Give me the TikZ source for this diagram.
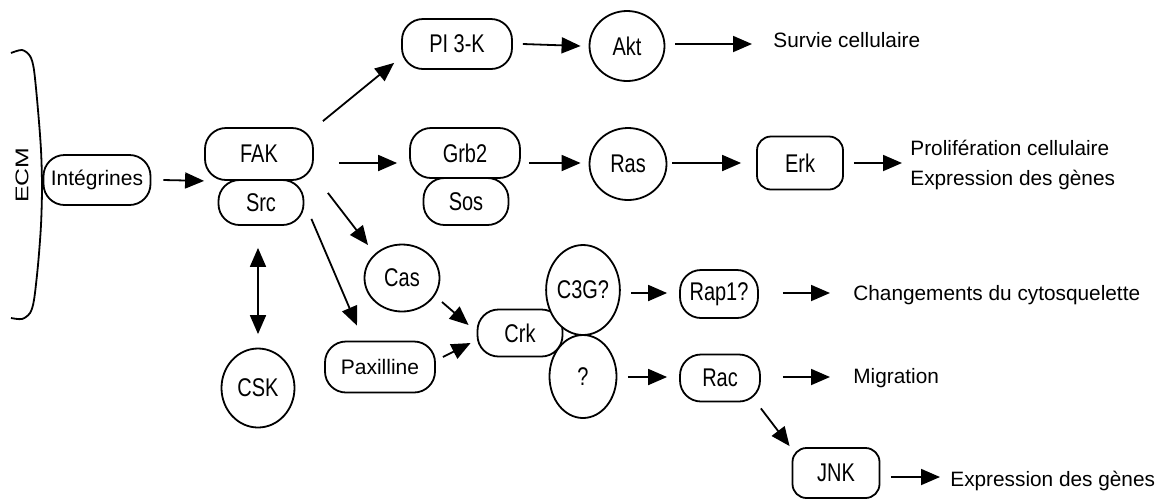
\documentclass[tikz,border=0pt]{standalone}
\usepackage{fontspec}
\setmainfont{Liberation Sans}
\newfontfamily\condfont[FakeStretch=0.78]{Liberation Sans}
\usepackage{graphicx}
\usetikzlibrary{shapes.geometric,arrows.meta,calc}
\begin{document}
\begin{tikzpicture}[x=0.5pt,y=-0.5pt]
\tikzset{
  lab/.style={font=\condfont\fontsize{12.8}{14}\selectfont},
  plain/.style={font=\fontsize{10.5}{12}\selectfont},
  pill/.style={draw, line width=0.9pt, rounded corners=10.5pt, fill=white, inner sep=0pt, lab},
  oval/.style={draw, ellipse, line width=0.9pt, fill=white, inner sep=0pt, lab},
  arr/.style={line width=0.9pt, -{Triangle[length=9.5pt,width=8pt]}},
  darr/.style={line width=0.9pt, {Triangle[length=9.5pt,width=8pt]}-{Triangle[length=9.5pt,width=8pt]}},
  lbl/.style={anchor=base west, inner sep=0pt, font=\fontsize{10.4}{15}\selectfont, align=left}
}
\useasboundingbox (0,0) rectangle (1168,500);

% ECM membrane
\draw[line width=0.9pt] plot[smooth] coordinates {(11,53) (22,50) (30,56) (34,70) (38,110) (41,150) (42,187) (41,225) (38,265) (34,300) (30,313) (22,319) (11,318)};
\node[rotate=90, inner sep=0pt, font=\fontsize{9.2}{10}\selectfont] (ecm) at (22,175) {\scalebox{1.35}[1]{ECM}};

% nodes
\node[pill, plain, minimum width=53.5pt, minimum height=25pt] (integ) at (97,180) {Int\'egrines};
\node[pill, minimum width=42.5pt, minimum height=22.5pt] (src) at (261,202.5) {Src};
\node[pill, minimum width=54pt, minimum height=26pt] (fak) at (259,154) {FAK};
\node[pill, minimum width=55pt, minimum height=25pt] (pi3k) at (457,44) {PI 3-K};
\node[oval, minimum width=37.5pt, minimum height=35pt] (akt) at (627,46) {Akt};
\node[pill, minimum width=42.5pt, minimum height=23.5pt] (sos) at (466,201.5) {Sos};
\node[pill, minimum width=55pt, minimum height=25pt] (grb2) at (465,153) {Grb2};
\node[oval, minimum width=38.5pt, minimum height=36pt] (ras) at (628,164) {Ras};
\node[pill, rounded corners=7pt, minimum width=43pt, minimum height=26.5pt] (erk) at (800,163) {Erk};
\node[oval, minimum width=37.5pt, minimum height=33.5pt] (cas) at (402,278) {Cas};
\node[pill, plain, minimum width=55pt, minimum height=25.5pt] (pax) at (380,367) {Paxilline};
\node[pill, minimum width=42.5pt, minimum height=23.5pt] (crk) at (520,333) {Crk};
\node[oval, minimum width=33.5pt, minimum height=45pt] (c3g) at (583,290) {C3G?};
\node[oval, minimum width=33.5pt, minimum height=41.5pt] (q) at (583,376.5) {?};
\node[pill, minimum width=39pt, minimum height=24pt] (rap) at (719,294) {Rap1?};
\node[pill, minimum width=40pt, minimum height=23.5pt] (rac) at (720,378) {Rac};
\node[pill, rounded corners=7pt, minimum width=43.5pt, minimum height=25pt] (jnk) at (836,473) {JNK};
\node[oval, minimum width=36.5pt, minimum height=39.5pt] (csk) at (258,388) {CSK};

% text labels
\node[lbl] (t1) at (773,47) {Survie cellulaire};
\node[lbl, anchor=west] (t2) at (910,164.5) {Prolif\'eration cellulaire\\Expression des g\`enes};
\node[lbl] (t3) at (853,300) {Changements du cytosquelette};
\node[lbl] (t4) at (853,383) {Migration};
\node[lbl] (t5) at (950,486) {Expression des g\`enes};

% connectors
\draw[arr] ([shift={(12,0)}]integ.east) -- (fak.south west);
\draw[arr] ([shift={(9,-6)}]fak.north east) -- ([shift={(-7,-7)}]pi3k.south west);
\draw[arr] ([shift={(25,9)}]fak.east) -- ([shift={(-12,10)}]grb2.west);
\draw[arr] ([shift={(14,12)}]fak.south east) -- ([shift={(-34,-33)}]cas.center);
\draw[arr] ([shift={(7,-7)}]src.south east) -- ([shift={(-23,-15)}]pax.north);
\draw[darr] ([shift={(-3,22)}]src.south) -- ([shift={(0,-13.5)}]csk.north);
\draw[arr] ([shift={(40,24)}]cas.center) -- ([shift={(-8,-8)}]crk.west);
\draw[arr] ([shift={(7,-10)}]pax.east) -- ([shift={(-6,10)}]crk.west);
\draw[arr] ([xshift=5pt]pi3k.east) -- ([xshift=-4pt]akt.west);
\draw[arr] ([shift={(10,-2)}]akt.east) -- ([shift={(-21,-3)}]t1.base west);
\draw[arr] ([shift={(8,10)}]grb2.east) -- ([shift={(-8,-1)}]ras.west);
\draw[arr] ([shift={(5,-1)}]ras.east) -- ([shift={(-15,0)}]erk.west);
\draw[arr] ([xshift=5pt]erk.east) -- ([shift={(-8,-1.5)}]t2.west);
\draw[arr] ([shift={(10.5,3)}]c3g.east) -- ([shift={(-12,-1)}]rap.west);
\draw[arr] ([shift={(10.5,0.5)}]q.east) -- ([shift={(-12,-1)}]rac.west);
\draw[arr] ([shift={(24,-1)}]rap.east) -- ([shift={(-23,-7)}]t3.base west);
\draw[arr] ([shift={(22,-1)}]rac.east) -- ([shift={(-23,-6)}]t4.base west);
\draw[arr] ([shift={(0,6)}]rac.south east) -- ([shift={(-2,-1)}]jnk.north west);
\draw[arr] ([shift={(10.5,4)}]jnk.east) -- ([shift={(-10,-9)}]t5.base west);
\end{tikzpicture}
\end{document}
